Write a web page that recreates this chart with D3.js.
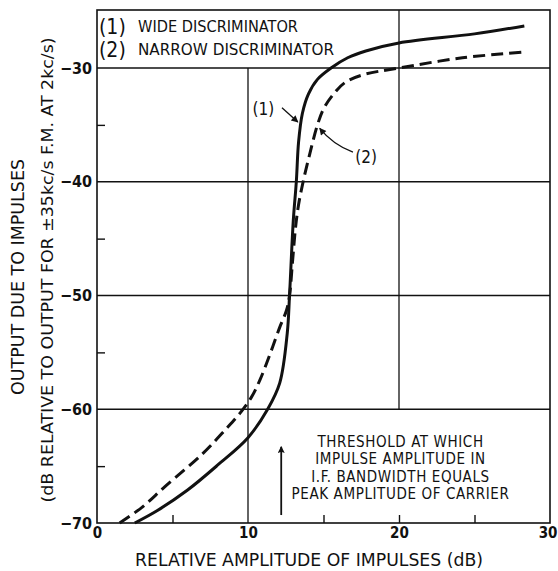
<!DOCTYPE html>
<html>
<head>
<meta charset="utf-8">
<script src="https://cdn.jsdelivr.net/npm/d3@7"></script>
<style>
  body { margin: 0; background: #fff; }
  text { font-family: "DejaVu Sans Condensed", "DejaVu Sans", sans-serif; fill: #111; }
</style>
</head>
<body>
<script>
// curve (1) wide discriminator
var wideX = [2.5, 4, 6, 8, 10, 11.3, 12.1, 12.6, 12.75, 13.0, 13.2, 13.35, 13.6, 14.0, 14.6, 15.5, 16.6, 17.8, 20, 25, 28.3];
var wideY = [-70, -68.9, -67.1, -64.9, -62.5, -60, -57.7, -53.3, -50, -43.4, -40, -36.5, -34, -32.3, -31, -30, -29.1, -28.5, -27.8, -27.0, -26.3];

// curve (2) narrow discriminator
var narrowX = [1.5, 3, 4.5, 7, 8.5, 9.5, 10.2, 10.8, 11.5, 12.1, 12.55, 12.75, 12.95, 13.15, 13.35, 13.65, 14.1, 14.6, 15.0, 15.6, 16.4, 17.6, 20, 24.2, 28.3];
var narrowY = [-70, -68.6, -66.8, -63.9, -61.8, -60.3, -59.0, -57.4, -55, -52.8, -51.3, -50, -47, -44, -42, -40, -37.5, -35.0, -33.6, -32.4, -31.3, -30.6, -30, -29.1, -28.6];

var xTicks = [0, 10, 20, 30];
var xMinor = [5, 15, 20, 25];
var yTicks = [-30, -40, -50, -60, -70];
var yMinor = [-35, -45, -55, -65];
var legendLines = ["WIDE DISCRIMINATOR", "NARROW DISCRIMINATOR"];
var noteLines = ["THRESHOLD AT WHICH", "IMPULSE AMPLITUDE IN", "I.F. BANDWIDTH EQUALS", "PEAK AMPLITUDE OF CARRIER"];

var W = 558, H = 571;
var svg = d3.select("body").append("svg")
    .attr("width", W)
    .attr("height", H);

var defs = svg.append("defs");
defs.append("marker")
    .attr("id", "head")
    .attr("viewBox", "0 0 10 10")
    .attr("refX", 9).attr("refY", 5)
    .attr("markerWidth", 9).attr("markerHeight", 7)
    .attr("markerUnits", "userSpaceOnUse")
    .attr("orient", "auto")
    .append("path").attr("d", "M0,0 L10,5 L0,10 Z").attr("fill", "#111");
defs.append("marker")
    .attr("id", "headTall")
    .attr("viewBox", "0 0 10 10")
    .attr("refX", 9).attr("refY", 5)
    .attr("markerWidth", 16).attr("markerHeight", 7)
    .attr("markerUnits", "userSpaceOnUse")
    .attr("orient", "auto")
    .append("path").attr("d", "M0,0 L10,5 L0,10 L2,5 Z").attr("fill", "#111");

var x = d3.scaleLinear().domain([0, 30]).range([97, 550]);
var y = d3.scaleLinear().domain([-70, -24.9]).range([523, 10]);

// grid lines
var grid = svg.append("g").attr("stroke", "#111").attr("stroke-width", 1.3);
[-30, -40, -50, -60].forEach(function(v) {
    grid.append("line")
        .attr("x1", x(0)).attr("x2", x(30))
        .attr("y1", y(v)).attr("y2", y(v));
});
grid.append("line")
    .attr("x1", x(10)).attr("x2", x(10))
    .attr("y1", y(-30)).attr("y2", y(-70));
grid.append("line")
    .attr("x1", x(20)).attr("x2", x(20))
    .attr("y1", y(-24.9)).attr("y2", y(-60));

// frame
svg.append("rect")
    .attr("x", x(0)).attr("y", y(-24.9))
    .attr("width", x(30) - x(0)).attr("height", y(-70) - y(-24.9))
    .attr("fill", "none").attr("stroke", "#111").attr("stroke-width", 1.6);

// axes
var leftAxis = d3.axisLeft(y).tickValues(yTicks).tickSize(0).tickPadding(5)
    .tickFormat(function(d) { return "\u2212" + Math.abs(d); });
var gl = svg.append("g").attr("transform", "translate(" + x(0) + ",0)").call(leftAxis);
gl.select(".domain").remove();
gl.selectAll("text").attr("font-size", 16).attr("font-weight", "bold")
    .attr("font-family", "'DejaVu Sans Condensed', sans-serif");

var leftMinor = d3.axisLeft(y).tickValues(yMinor).tickSize(-8).tickFormat("");
var glm = svg.append("g").attr("transform", "translate(" + x(0) + ",0)").call(leftMinor);
glm.select(".domain").remove();
glm.selectAll("line").attr("stroke", "#111").attr("stroke-width", 1.4);

var bottomAxis = d3.axisBottom(x).tickValues(xTicks).tickSize(0).tickPadding(4)
    .tickFormat(function(d) { return d; });
var gb = svg.append("g").attr("transform", "translate(0," + y(-70) + ")").call(bottomAxis);
gb.select(".domain").remove();
gb.selectAll("text").attr("font-size", 15).attr("font-weight", "bold")
    .attr("font-family", "'DejaVu Sans Condensed', sans-serif")
    .attr("text-anchor", function(d) { return d === 30 ? "end" : "middle"; })
    .attr("dx", function(d) { return d === 30 ? 7 : 0; });

var bottomMinor = d3.axisBottom(x).tickValues(xMinor).tickSize(-8).tickFormat("");
var gbm = svg.append("g").attr("transform", "translate(0," + y(-70) + ")").call(bottomMinor);
gbm.select(".domain").remove();
gbm.selectAll("line").attr("stroke", "#111").attr("stroke-width", 1.4);

// curves
var line = d3.line()
    .x(function(d) { return x(d[0]); })
    .y(function(d) { return y(d[1]); })
    .curve(d3.curveCatmullRom.alpha(0.5));

svg.append("path")
    .datum(d3.zip(wideX, wideY))
    .attr("d", line)
    .attr("fill", "none").attr("stroke", "#111").attr("stroke-width", 3);

svg.append("path")
    .datum(d3.zip(narrowX, narrowY))
    .attr("d", line)
    .attr("fill", "none").attr("stroke", "#111").attr("stroke-width", 3)
    .attr("stroke-dasharray", "12,6");

// legend
legendLines.forEach(function(t, i) {
    var by = 32 + i * 23;
    svg.append("text")
        .attr("x", 99).attr("y", by + 2)
        .attr("font-size", 21)
        .text("(" + (i + 1) + ")");
    svg.append("text")
        .attr("x", 138).attr("y", by)
        .attr("font-size", 15)
        .attr("textLength", i === 0 ? 160 : 196)
        .attr("lengthAdjust", "spacingAndGlyphs")
        .text(t);
});

// curve labels with arrows
svg.append("text")
    .attr("x", x(10.3)).attr("y", y(-34.1))
    .attr("font-size", 17)
    .text("(1)");
svg.append("line")
    .attr("x1", x(12.25)).attr("y1", y(-33.5))
    .attr("x2", x(13.3)).attr("y2", y(-34.75))
    .attr("stroke", "#111").attr("stroke-width", 1.3)
    .attr("marker-end", "url(#head)");

svg.append("text")
    .attr("x", x(17.1)).attr("y", y(-38.35))
    .attr("font-size", 17)
    .text("(2)");
svg.append("path")
    .attr("d", "M" + x(16.95) + "," + y(-37.4) +
        " Q" + x(15.6) + "," + y(-36.7) + " " + x(14.75) + "," + y(-35.3))
    .attr("fill", "none").attr("stroke", "#111").attr("stroke-width", 1.3)
    .attr("marker-end", "url(#head)");

// threshold note
svg.append("line")
    .attr("x1", x(12.2)).attr("y1", y(-69.3))
    .attr("x2", x(12.2)).attr("y2", y(-63.3))
    .attr("stroke", "#111").attr("stroke-width", 1.8)
    .attr("marker-end", "url(#headTall)");

noteLines.forEach(function(t, i) {
    svg.append("text")
        .attr("x", x(20.1)).attr("y", 447 + i * 17.3)
        .attr("text-anchor", "middle")
        .attr("font-size", 15)
        .attr("letter-spacing", 0.6)
        .text(t);
});

// axis titles
svg.append("text")
    .attr("x", 135).attr("y", 566)
    .attr("font-size", 18)
    .attr("textLength", 348)
    .attr("lengthAdjust", "spacingAndGlyphs")
    .text("RELATIVE AMPLITUDE OF IMPULSES (dB)");

svg.append("text")
    .attr("transform", "translate(24,277) rotate(-90)")
    .attr("text-anchor", "middle")
    .attr("font-size", 17)
    .attr("textLength", 236)
    .attr("lengthAdjust", "spacingAndGlyphs")
    .text("OUTPUT DUE TO IMPULSES");

svg.append("text")
    .attr("transform", "translate(53,270) rotate(-90)")
    .attr("text-anchor", "middle")
    .attr("font-size", 15)
    .attr("textLength", 465)
    .attr("lengthAdjust", "spacingAndGlyphs")
    .text("(dB RELATIVE TO OUTPUT FOR \u00B135kc/s F.M. AT 2kc/s)");
</script>
</body>
</html>
